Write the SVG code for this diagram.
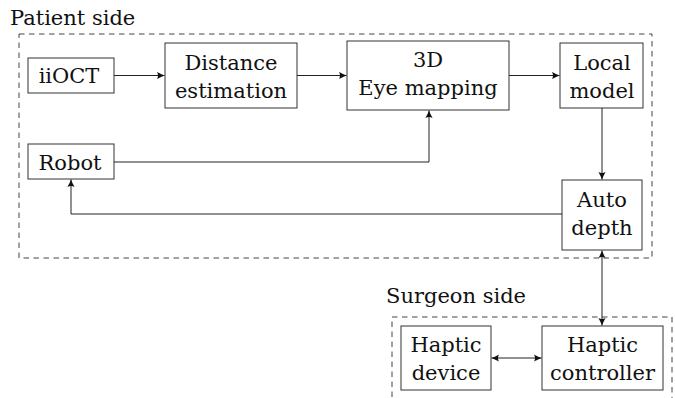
<svg xmlns="http://www.w3.org/2000/svg" width="675" height="398" viewBox="0 0 675 398">
<style>
text{font-size:21px;fill:#111;text-anchor:middle}
.lab{text-anchor:start}
.box{fill:#fff;stroke:#333;stroke-width:1}
.grp{fill:none;stroke:#444;stroke-width:1;stroke-dasharray:5.5 4.5}
.con path{fill:none;stroke:#222;stroke-width:1}
</style>
<defs>
<marker id="ah" viewBox="-8 -4 9 8" refX="0" refY="0" markerWidth="9" markerHeight="8" markerUnits="userSpaceOnUse" orient="auto-start-reverse">
<path d="M-7.5,-3.6 Q-3,-1 0,0 Q-3,1 -7.5,3.6 Q-5.5,0 -7.5,-3.6 Z" fill="#111"/>
</marker>
</defs>
<g id="patient-side">
<rect class="grp" x="19" y="34" width="633" height="224"/>
<text class="lab" x="10" y="25" font-family="DejaVu Serif">Patient side</text>
</g>
<g id="surgeon-side">
<rect class="grp" x="392" y="317" width="280" height="95"/>
<text class="lab" x="386" y="303" font-family="DejaVu Serif">Surgeon side</text>
</g>
<g id="iioct">
<rect class="box" x="28" y="58" width="86" height="35"/>
<text x="69" y="83" font-family="DejaVu Serif">iiOCT</text>
</g>
<g id="distance">
<rect class="box" x="165" y="43" width="132" height="65"/>
<text x="231" y="70" font-family="DejaVu Serif">Distance</text>
<text x="231" y="98" font-family="DejaVu Serif">estimation</text>
</g>
<g id="eye-mapping">
<rect class="box" x="347" y="41" width="162" height="69"/>
<text x="428" y="67" font-family="DejaVu Serif">3D</text>
<text x="428" y="95" font-family="DejaVu Serif">Eye mapping</text>
</g>
<g id="local-model">
<rect class="box" x="560" y="43" width="83" height="65"/>
<text x="602" y="70" font-family="DejaVu Serif">Local</text>
<text x="602" y="98" font-family="DejaVu Serif">model</text>
</g>
<g id="robot">
<rect class="box" x="28" y="144" width="86" height="35"/>
<text x="70" y="170" font-family="DejaVu Serif">Robot</text>
</g>
<g id="auto-depth">
<rect class="box" x="562" y="180" width="80" height="70"/>
<text x="602" y="207" font-family="DejaVu Serif">Auto</text>
<text x="602" y="235" font-family="DejaVu Serif">depth</text>
</g>
<g id="haptic-device">
<rect class="box" x="401" y="326" width="90" height="64"/>
<text x="446" y="352" font-family="DejaVu Serif">Haptic</text>
<text x="446" y="380" font-family="DejaVu Serif">device</text>
</g>
<g id="haptic-controller">
<rect class="box" x="542" y="326" width="121" height="64"/>
<text x="602.5" y="352" font-family="DejaVu Serif">Haptic</text>
<text x="602.5" y="380" font-family="DejaVu Serif">controller</text>
</g>
<g id="connectors" class="con">
<path d="M114,75.5 H164.5" marker-end="url(#ah)"/>
<path d="M297,75.5 H346.5" marker-end="url(#ah)"/>
<path d="M509,75.5 H559.5" marker-end="url(#ah)"/>
<path d="M602,108 V179.5" marker-end="url(#ah)"/>
<path d="M562,214 H71 V179.5" marker-end="url(#ah)"/>
<path d="M114,162 H429 V110.5" marker-end="url(#ah)"/>
<path d="M602,250.5 V325.5" marker-start="url(#ah)" marker-end="url(#ah)"/>
<path d="M491.5,358 H541.5" marker-start="url(#ah)" marker-end="url(#ah)"/>
</g>
</svg>
